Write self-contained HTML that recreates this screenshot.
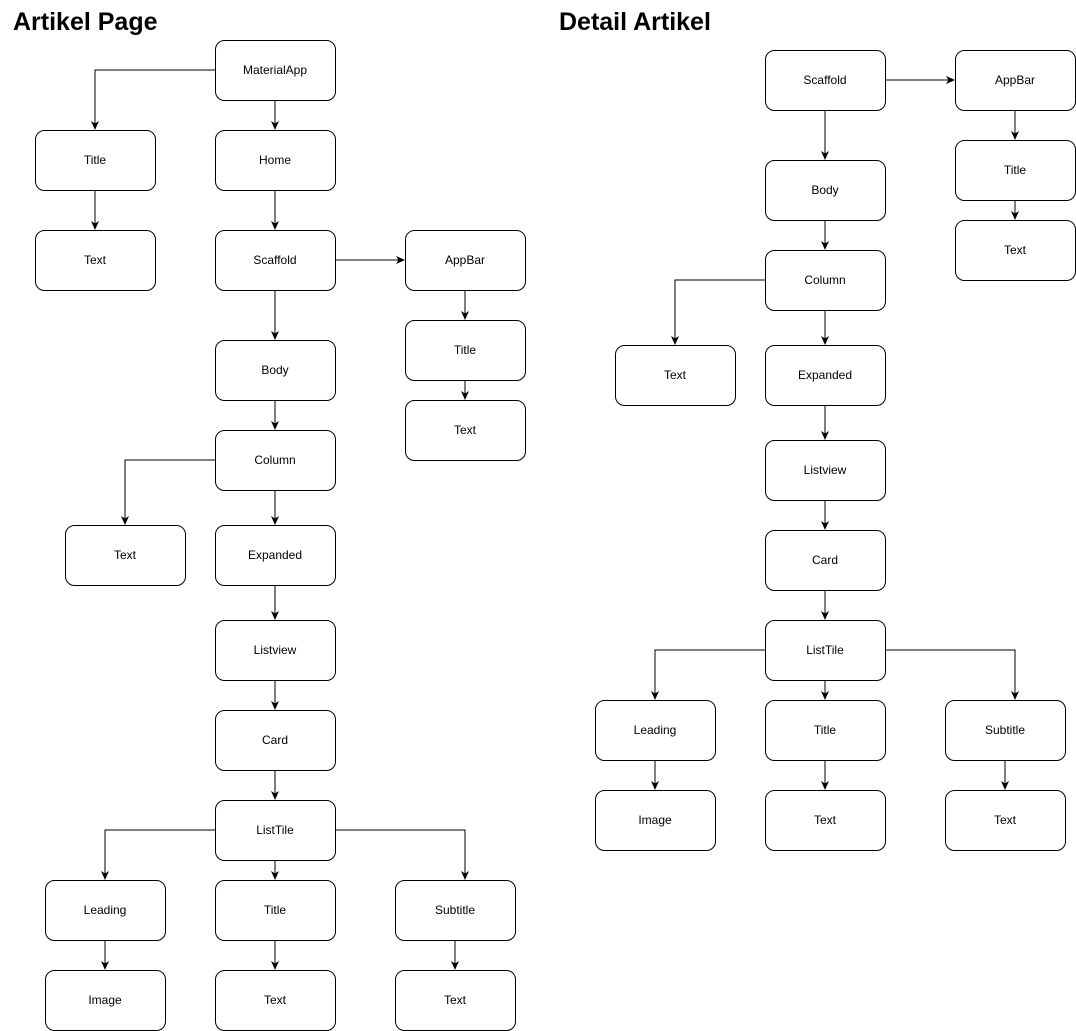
<!DOCTYPE html>
<html><head><meta charset="utf-8"><style>
html,body{margin:0;padding:0;background:#fff;}
svg{display:block;}
text{font-family:"Liberation Sans",Arial,sans-serif;}
</style></head><body>
<svg width="1076" height="1031" viewBox="0 0 1076 1031" xmlns="http://www.w3.org/2000/svg">
<defs><marker id="a" markerWidth="10" markerHeight="10" refX="8" refY="5" orient="auto" markerUnits="userSpaceOnUse"><path d="M0,1 L9,5 L0,9 L2.5,5 Z" fill="#000"/></marker></defs>
<text x="13" y="30" font-size="25" font-weight="bold">Artikel Page</text>
<text x="559" y="30" font-size="25" font-weight="bold">Detail Artikel</text>
<g fill="none" stroke="#000" stroke-width="1" marker-end="url(#a)">
<path d="M215,70 H95 V129"/>
<path d="M275,100 V129"/>
<path d="M95,190 V229"/>
<path d="M275,190 V229"/>
<path d="M335,260 H404"/>
<path d="M465,290 V319"/>
<path d="M465,380 V399"/>
<path d="M275,290 V339"/>
<path d="M275,400 V429"/>
<path d="M215,460 H125 V524"/>
<path d="M275,490 V524"/>
<path d="M275,585 V619"/>
<path d="M275,680 V709"/>
<path d="M275,770 V799"/>
<path d="M215,830 H105 V879"/>
<path d="M275,860 V879"/>
<path d="M335,830 H465 V879"/>
<path d="M105,940 V969"/>
<path d="M275,940 V969"/>
<path d="M455,940 V969"/>
<path d="M885,80 H954"/>
<path d="M1015,110 V139"/>
<path d="M1015,200 V219"/>
<path d="M825,110 V159"/>
<path d="M825,220 V249"/>
<path d="M765,280 H675 V344"/>
<path d="M825,310 V344"/>
<path d="M825,405 V439"/>
<path d="M825,500 V529"/>
<path d="M825,590 V619"/>
<path d="M765,650 H655 V699"/>
<path d="M825,680 V699"/>
<path d="M885,650 H1015 V699"/>
<path d="M655,760 V789"/>
<path d="M825,760 V789"/>
<path d="M1005,760 V789"/>
</g>
<g font-size="12" text-anchor="middle">
<g fill="#fff" stroke="#000" stroke-width="1">
<rect x="215.5" y="40.5" width="120" height="60" rx="9"/>
<rect x="35.5" y="130.5" width="120" height="60" rx="9"/>
<rect x="215.5" y="130.5" width="120" height="60" rx="9"/>
<rect x="35.5" y="230.5" width="120" height="60" rx="9"/>
<rect x="215.5" y="230.5" width="120" height="60" rx="9"/>
<rect x="405.5" y="230.5" width="120" height="60" rx="9"/>
<rect x="405.5" y="320.5" width="120" height="60" rx="9"/>
<rect x="405.5" y="400.5" width="120" height="60" rx="9"/>
<rect x="215.5" y="340.5" width="120" height="60" rx="9"/>
<rect x="215.5" y="430.5" width="120" height="60" rx="9"/>
<rect x="65.5" y="525.5" width="120" height="60" rx="9"/>
<rect x="215.5" y="525.5" width="120" height="60" rx="9"/>
<rect x="215.5" y="620.5" width="120" height="60" rx="9"/>
<rect x="215.5" y="710.5" width="120" height="60" rx="9"/>
<rect x="215.5" y="800.5" width="120" height="60" rx="9"/>
<rect x="45.5" y="880.5" width="120" height="60" rx="9"/>
<rect x="215.5" y="880.5" width="120" height="60" rx="9"/>
<rect x="395.5" y="880.5" width="120" height="60" rx="9"/>
<rect x="45.5" y="970.5" width="120" height="60" rx="9"/>
<rect x="215.5" y="970.5" width="120" height="60" rx="9"/>
<rect x="395.5" y="970.5" width="120" height="60" rx="9"/>
<rect x="765.5" y="50.5" width="120" height="60" rx="9"/>
<rect x="955.5" y="50.5" width="120" height="60" rx="9"/>
<rect x="955.5" y="140.5" width="120" height="60" rx="9"/>
<rect x="955.5" y="220.5" width="120" height="60" rx="9"/>
<rect x="765.5" y="160.5" width="120" height="60" rx="9"/>
<rect x="765.5" y="250.5" width="120" height="60" rx="9"/>
<rect x="615.5" y="345.5" width="120" height="60" rx="9"/>
<rect x="765.5" y="345.5" width="120" height="60" rx="9"/>
<rect x="765.5" y="440.5" width="120" height="60" rx="9"/>
<rect x="765.5" y="530.5" width="120" height="60" rx="9"/>
<rect x="765.5" y="620.5" width="120" height="60" rx="9"/>
<rect x="595.5" y="700.5" width="120" height="60" rx="9"/>
<rect x="765.5" y="700.5" width="120" height="60" rx="9"/>
<rect x="945.5" y="700.5" width="120" height="60" rx="9"/>
<rect x="595.5" y="790.5" width="120" height="60" rx="9"/>
<rect x="765.5" y="790.5" width="120" height="60" rx="9"/>
<rect x="945.5" y="790.5" width="120" height="60" rx="9"/>
</g>
<text x="275" y="74">MaterialApp</text>
<text x="95" y="164">Title</text>
<text x="275" y="164">Home</text>
<text x="95" y="264">Text</text>
<text x="275" y="264">Scaffold</text>
<text x="465" y="264">AppBar</text>
<text x="465" y="354">Title</text>
<text x="465" y="434">Text</text>
<text x="275" y="374">Body</text>
<text x="275" y="464">Column</text>
<text x="125" y="559">Text</text>
<text x="275" y="559">Expanded</text>
<text x="275" y="654">Listview</text>
<text x="275" y="744">Card</text>
<text x="275" y="834">ListTile</text>
<text x="105" y="914">Leading</text>
<text x="275" y="914">Title</text>
<text x="455" y="914">Subtitle</text>
<text x="105" y="1004">Image</text>
<text x="275" y="1004">Text</text>
<text x="455" y="1004">Text</text>
<text x="825" y="84">Scaffold</text>
<text x="1015" y="84">AppBar</text>
<text x="1015" y="174">Title</text>
<text x="1015" y="254">Text</text>
<text x="825" y="194">Body</text>
<text x="825" y="284">Column</text>
<text x="675" y="379">Text</text>
<text x="825" y="379">Expanded</text>
<text x="825" y="474">Listview</text>
<text x="825" y="564">Card</text>
<text x="825" y="654">ListTile</text>
<text x="655" y="734">Leading</text>
<text x="825" y="734">Title</text>
<text x="1005" y="734">Subtitle</text>
<text x="655" y="824">Image</text>
<text x="825" y="824">Text</text>
<text x="1005" y="824">Text</text>
</g>
</svg>
</body></html>
